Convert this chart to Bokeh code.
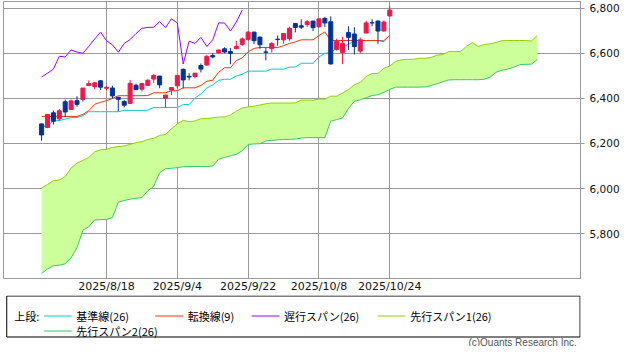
from bokeh.plotting import figure
from bokeh.models import Range1d, FixedTicker, NumeralTickFormatter
from bokeh.layouts import column
from bokeh.embed import file_html
from bokeh.resources import INLINE
from bokeh.core.properties import value

# ---------------- data ----------------
dates = ["2025/8/1", "2025/8/4", "2025/8/5", "2025/8/6", "2025/8/7", "2025/8/8", "2025/8/11",
         "2025/8/12", "2025/8/13", "2025/8/14", "2025/8/15", "2025/8/18", "2025/8/19", "2025/8/20",
         "2025/8/21", "2025/8/22", "2025/8/25", "2025/8/26", "2025/8/27", "2025/8/28", "2025/8/29",
         "2025/9/2", "2025/9/3", "2025/9/4", "2025/9/5", "2025/9/8", "2025/9/9", "2025/9/10",
         "2025/9/11", "2025/9/12", "2025/9/15", "2025/9/16", "2025/9/17", "2025/9/18", "2025/9/19",
         "2025/9/22", "2025/9/23", "2025/9/24", "2025/9/25", "2025/9/26", "2025/9/29", "2025/9/30",
         "2025/10/1", "2025/10/2", "2025/10/3", "2025/10/6", "2025/10/7", "2025/10/8", "2025/10/9",
         "2025/10/10", "2025/10/13", "2025/10/14", "2025/10/15", "2025/10/16", "2025/10/17",
         "2025/10/20", "2025/10/21", "2025/10/22", "2025/10/23", "2025/10/24"]

tick_labels = ["2025/8/18", "2025/9/4", "2025/9/22", "2025/10/8", "2025/10/24"]
y_ticks = [5800, 6000, 6200, 6400, 6600, 6800]

opens = [6287, 6271, 6336, 6309, 6385, 6351, 6390, 6395, 6457, 6453, 6478, 6445, 6446, 6405, 6386,
         6378, 6458, 6441, 6458, 6486, 6499, 6401, 6437, 6456, 6529, 6498, 6497, 6546, 6548, 6590,
         6603, 6620, 6608, 6621, 6640, 6662, 6694, 6672, 6606, 6621, 6663, 6660, 6665, 6732, 6722,
         6728, 6743, 6718, 6755, 6740, 6617, 6604, 6692, 6686, 6610, 6690, 6736, 6743, 6699, 6766]
highs = [6288, 6330, 6346, 6353, 6395, 6395, 6410, 6446, 6480, 6473, 6481, 6456, 6456, 6407, 6393,
         6482, 6466, 6468, 6484, 6508, 6500, 6416, 6449, 6502, 6533, 6512, 6513, 6555, 6592, 6601,
         6616, 6627, 6624, 6656, 6671, 6699, 6696, 6675, 6624, 6650, 6679, 6688, 6718, 6733, 6751,
         6748, 6745, 6753, 6762, 6764, 6665, 6673, 6720, 6716, 6670, 6744, 6752, 6747, 6746, 6808]
lows = [6212, 6268, 6284, 6300, 6318, 6351, 6364, 6385, 6457, 6441, 6437, 6436, 6400, 6343, 6360,
        6375, 6438, 6431, 6456, 6469, 6445, 6360, 6415, 6445, 6444, 6480, 6489, 6515, 6545, 6578,
        6598, 6600, 6552, 6618, 6633, 6657, 6641, 6620, 6569, 6604, 6634, 6643, 6656, 6693, 6708,
        6717, 6699, 6713, 6717, 6550, 6612, 6552, 6615, 6595, 6600, 6690, 6720, 6641, 6697, 6762]
closes = [6238, 6329, 6299, 6345, 6340, 6389, 6374, 6446, 6466, 6469, 6450, 6449, 6411, 6396, 6370,
          6467, 6439, 6466, 6481, 6502, 6460, 6415, 6448, 6502, 6482, 6495, 6512, 6530, 6587, 6584,
          6615, 6606, 6600, 6631, 6664, 6694, 6656, 6638, 6605, 6644, 6661, 6688, 6711, 6715, 6716,
          6740, 6714, 6753, 6735, 6553, 6654, 6644, 6671, 6630, 6660, 6735, 6735, 6699, 6739, 6792]

# 基準線(26)
kijun = [6273, 6280, 6300, 6302, 6308, 6315, 6315, 6324, 6341, 6341, 6341, 6341, 6341, 6341, 6347,
         6347, 6347, 6347, 6348, 6360, 6360, 6360, 6360, 6360, 6373, 6373, 6401, 6420, 6446, 6460,
         6480, 6485, 6485, 6500, 6507, 6521, 6521, 6521, 6521, 6530, 6530, 6530, 6539, 6539, 6556,
         6556, 6556, 6584, 6600, 6604, 6622, 6627, 6640, 6655, 6657, 6657, 6657, 6657, 6657, 6679]
# 転換線(9)
tenkan = [6320, 6320, 6320, 6320, 6320, 6320, 6320, 6329, 6346, 6374, 6383, 6390, 6400, 6412, 6412,
          6412, 6412, 6412, 6413, 6425, 6425, 6425, 6434, 6434, 6447, 6447, 6447, 6458, 6476, 6481,
          6516, 6536, 6536, 6568, 6580, 6607, 6622, 6626, 6626, 6626, 6626, 6634, 6644, 6651, 6660,
          6660, 6660, 6679, 6695, 6657, 6657, 6657, 6657, 6657, 6657, 6657, 6657, 6657, 6652, 6680]
# 遅行スパン(26)
chikou = [6495, 6512, 6530, 6587, 6584, 6615, 6606, 6600, 6631, 6664, 6694, 6656, 6638, 6605, 6644,
          6661, 6688, 6711, 6715, 6716, 6740, 6714, 6753, 6735, 6553, 6654, 6644, 6671, 6630, 6660,
          6735, 6735, 6699, 6739, 6792]
# 先行スパン1(26)
span1 = [6003, 6018, 6035, 6038, 6053, 6091, 6113, 6125, 6138, 6163, 6172, 6174, 6183, 6186, 6189,
         6196, 6204, 6208, 6218, 6223, 6236, 6240, 6265, 6287, 6303,
         6296.5, 6300, 6310, 6311, 6314, 6317.5, 6317.5, 6326.5, 6343.5, 6357.5,
         6362, 6365.5, 6370.5, 6376.5, 6379.5, 6379.5, 6379.5, 6379.5, 6380.5, 6392.5,
         6392.5, 6392.5, 6397, 6397, 6410, 6410, 6424, 6439, 6461, 6470.5,
         6498, 6510.5, 6510.5, 6534, 6543.5, 6564, 6571.5, 6573.5, 6573.5, 6578,
         6578, 6582, 6591.5, 6595, 6608, 6608, 6608, 6631.5, 6647.5, 6630.5,
         6639.5, 6642, 6648.5, 6656, 6657, 6657, 6657, 6657, 6654.5, 6679.5]
# 先行スパン2(26)
span2 = [5623, 5643, 5658, 5660, 5666, 5693, 5738, 5815, 5831, 5861, 5862, 5863, 5871, 5940, 5947,
         5953, 5957, 5960, 5990, 6010, 6070, 6088, 6090, 6093, 6097, 6098, 6098, 6098, 6098,
         6100, 6130, 6138, 6145, 6152, 6168, 6196, 6198, 6199, 6211, 6214, 6216, 6218, 6218, 6220,
         6224, 6226, 6226, 6226, 6226,
         6299, 6306, 6313, 6355, 6387, 6394, 6403, 6413, 6416, 6427, 6440, 6450, 6450, 6450, 6450,
         6450, 6451, 6457, 6465, 6474, 6482, 6483, 6483, 6483, 6483, 6483, 6485, 6494, 6516, 6525,
         6530, 6538, 6550, 6551, 6552, 6572]

legend_items = ["基準線(26)", "転換線(9)", "遅行スパン(26)", "先行スパン1(26)", "先行スパン2(26)"]

# ---------------- styles ----------------
C_KIJUN = "#00cccc"
C_TENKAN = "#ff3300"
C_CHIKOU = "#9900ff"
C_SPAN1 = "#99cc00"
C_SPAN2 = "#33cc66"
C_CLOUD = "#ccff99"
C_UP = "#f0184a"
C_DOWN = "#003399"
C_GRID = "#999999"
JP_FONT = value("Noto Sans CJK JP")

idx = list(range(len(dates)))
fidx = list(range(len(span1)))
cidx = idx[:len(chikou)]
tick_idx = [dates.index(t) for t in tick_labels]

p = figure(width=622, height=295, x_range=Range1d(-6.456, 91.32), y_range=Range1d(5601, 6830),
           output_backend="svg", toolbar_location=None, y_axis_location="right",
           min_border_left=3, min_border_top=1, min_border_right=39, min_border_bottom=14)
p.background_fill_color = "white"
p.border_fill_color = "white"
p.outline_line_color = C_GRID
p.outline_line_width = 1

p.xgrid.ticker = FixedTicker(ticks=tick_idx)
p.ygrid.ticker = FixedTicker(ticks=y_ticks)
p.grid.grid_line_color = C_GRID
p.grid.grid_line_width = 1

# y axis (right)
p.yaxis.ticker = FixedTicker(ticks=y_ticks)
p.yaxis.formatter = NumeralTickFormatter(format="0,0")
p.yaxis.major_tick_out = 4
p.yaxis.major_tick_in = 0
p.yaxis.minor_tick_line_color = None
p.yaxis.axis_line_color = C_GRID
p.yaxis.major_tick_line_color = C_GRID
p.yaxis.major_label_text_font = "DejaVu Sans"
p.yaxis.major_label_text_font_size = "10.5px"
p.yaxis.major_label_text_color = "#111111"
p.yaxis.major_label_standoff = 5

# x axis
p.xaxis.ticker = FixedTicker(ticks=tick_idx)
p.xaxis.major_label_overrides = {i: t for i, t in zip(tick_idx, tick_labels)}
p.xaxis.major_tick_out = 0
p.xaxis.major_tick_in = 0
p.xaxis.minor_tick_line_color = None
p.xaxis.axis_line_color = None
p.xaxis.major_label_text_font = "DejaVu Sans"
p.xaxis.major_label_text_font_size = "11px"
p.xaxis.major_label_text_color = "#111111"
p.xaxis.major_label_standoff = 1

# cloud and lines
p.varea(x=fidx, y1=span1, y2=span2, fill_color=C_CLOUD)
p.line(fidx, span1, line_color=C_SPAN1, line_width=1)
p.line(fidx, span2, line_color=C_SPAN2, line_width=1)
p.line(idx, kijun, line_color=C_KIJUN, line_width=1)
p.line(idx, tenkan, line_color=C_TENKAN, line_width=1)
p.line(cidx, chikou, line_color=C_CHIKOU, line_width=1)

# candles
colors = [C_UP if c >= o else C_DOWN for o, c in zip(opens, closes)]
tops = [max(o, c) for o, c in zip(opens, closes)]
bots = [min(o, c) for o, c in zip(opens, closes)]
p.segment(x0=idx, y0=lows, x1=idx, y1=highs, line_color=colors, line_width=1)
p.vbar(x=idx, width=0.68, top=tops, bottom=bots, fill_color=colors, line_color=colors, line_width=1)

# ---------------- legend panel ----------------
lg = figure(width=622, height=51, x_range=Range1d(0, 622), y_range=Range1d(346, 295),
            output_backend="svg", toolbar_location=None, min_border=0,
            x_axis_type=None, y_axis_type=None)
lg.outline_line_color = None
lg.grid.visible = False
lg.background_fill_color = "white"
lg.border_fill_color = "white"

lg.quad(left=3.5, right=621.5, top=295.5, bottom=336.5, fill_color=None,
        line_color="#000000", line_width=1)

sw_x0 = [43.5, 163.5, 267.5, 403.5, 43.5]
sw_y = [315.5, 315.5, 315.5, 315.5, 330.5]
sw_col = [C_KIJUN, C_TENKAN, C_CHIKOU, C_SPAN1, C_SPAN2]
lg.segment(x0=sw_x0, y0=sw_y, x1=[x + 30 for x in sw_x0], y1=sw_y, line_color=sw_col, line_width=1)
lg.text(x=[x + 35 for x in sw_x0], y=sw_y, text=legend_items, text_font=JP_FONT,
        text_font_size="11px", text_baseline="middle", text_align="left", text_color="#000000")
lg.text(x=[11.5], y=[315.5], text=["上段:"], text_font=JP_FONT, text_font_size="11px",
        text_baseline="middle", text_align="left", text_color="#000000")
lg.text(x=[618], y=[341.5], text=["(c)Quants Research Inc."], text_font=value("Liberation Sans"),
        text_font_size="10px", text_baseline="middle", text_align="right", text_color="#555555")

layout = column(p, lg, spacing=0)
open("out.html", "w").write(file_html(layout, INLINE))
